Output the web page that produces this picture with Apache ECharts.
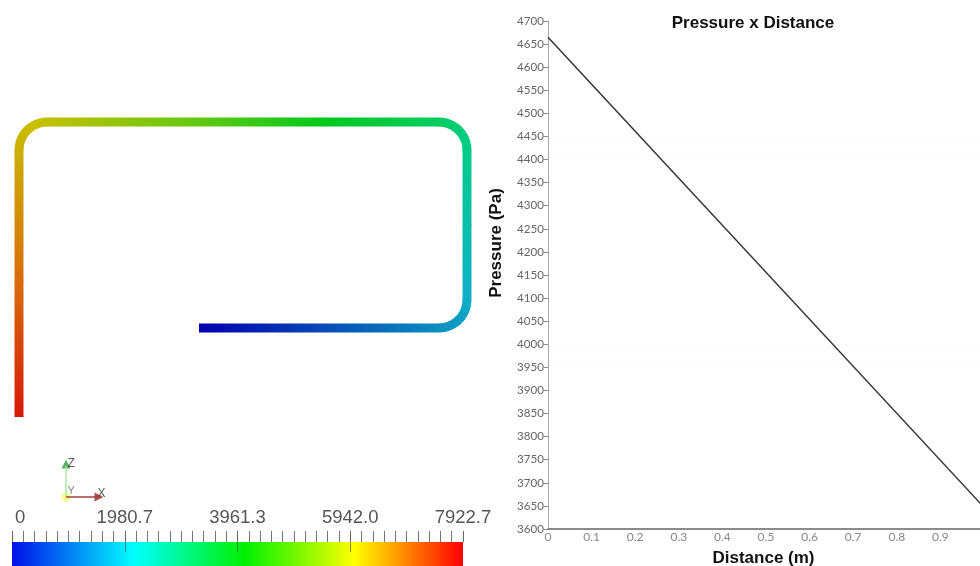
<!DOCTYPE html>
<html>
<head>
<meta charset="utf-8">
<style>html,body{margin:0;padding:0;background:#fff}#c{width:980px;height:566px;filter:blur(0.45px)}</style>
<script src="https://cdn.jsdelivr.net/npm/echarts@6/dist/echarts.min.js"></script>
</head>
<body>
<div id="c"></div>
<script>
// Pressure x Distance
const distance = [0, 1];
const pressure = [4665, 3647];
// Pipe centreline, with the colour-bar value at each point
const pipeX = [199, 300, 439, 444.5, 449.7, 454.6, 458.8, 462.3, 464.9, 466.5, 467, 467, 467, 466.5, 464.9, 462.3, 458.8, 454.6, 449.7, 444.5, 439, 323, 200, 47, 41.5, 36.3, 31.4, 27.2, 23.7, 21.1, 19.5, 19, 19, 19];
const pipeY = [328, 328, 328, 327.5, 325.9, 323.3, 319.8, 315.6, 310.7, 305.5, 300, 225, 150, 144.5, 139.3, 134.4, 130.2, 126.7, 124.1, 122.5, 122, 122, 122, 122, 122.5, 124.1, 126.7, 130.2, 134.4, 139.3, 144.5, 150, 280, 417];
const pipeValue = [0, 680, 1600, 1640, 1680, 1720, 1760, 1800, 1840, 1880, 1920, 2430, 2920, 2960, 3000, 3040, 3080, 3120, 3160, 3200, 3240, 3990, 4820, 5850, 5890, 5930, 5970, 6010, 6050, 6090, 6130, 6170, 7040, 7922.7];
const pipeStops = [[0, '#0000b0'], [0.2, '#0a8cc0'], [0.25, '#10b4c8'], [0.37, '#00cc88'], [0.41, '#05cc60'], [0.5, '#00c81c'], [0.625, '#70c810'], [0.75, '#c8c000'], [0.875, '#d87808'], [1, '#d81808']];
// Colour bar
const barMax = 7922.7;
const barTicks = ['{first|0}', '1980.7', '3961.3', '5942.0', '7922.7'];
const barMajor = [1980.675, 3961.35, 5942.025];
const barStops = [[0, '#0010e8'], [0.27, '#00ffff'], [0.517, '#00f000'], [0.76, '#ffff00'], [1, '#ff0000']];
// Orientation triad
const triadOrigin = [66, 497];
const triadEndZ = [66, 466];
const triadEndX = [97, 497];
const triadHeads = [
  {name: 'Z', value: [66, 464], rot: 0, color: '#30a040'},
  {name: 'X', value: [99, 497], rot: -90, color: '#a02020'}
];
const yTickInterval = 50;

function hexToRgb(h){return [1,3,5].map(i=>parseInt(h.substr(i,2),16));}
function pipeColor(v){
  const t = v / barMax;
  for (let i = 1; i < pipeStops.length; i++) {
    if (t <= pipeStops[i][0]) {
      const a = pipeStops[i-1], b = pipeStops[i], f = (t-a[0])/(b[0]-a[0]);
      const ca = hexToRgb(a[1]), cb = hexToRgb(b[1]);
      return 'rgb(' + ca.map((c,k)=>Math.round(c+(cb[k]-c)*f)).join(',') + ')';
    }
  }
  return pipeStops[pipeStops.length-1][1];
}
const pipeSegments = pipeX.slice(0,-1).map((x,i)=>[x,pipeY[i],pipeX[i+1],pipeY[i+1],pipeValue[i],pipeValue[i+1]]);

const chart = echarts.init(document.getElementById('c'), null, {renderer:'canvas', width:980, height:566});
chart.setOption({
  animation:false,
  backgroundColor:'#fff',
  title:{text:'Pressure x Distance', left:748, top:10, textAlign:'center',
    textStyle:{fontFamily:'Liberation Sans', fontWeight:'bold', fontSize:17, color:'#111'}},
  grid:[
    {left:548, top:21, width:436, height:508, outerBoundsMode:'none'},
    {left:0, top:0, width:490, height:566, outerBoundsMode:'none'},
    {left:12, top:542, width:451, height:24, outerBoundsMode:'none'}
  ],
  xAxis:[
    {gridIndex:0, type:'value', min:0, max:1, interval:0.1, name:'Distance (m)', nameLocation:'middle', nameGap:21,
      nameTextStyle:{fontFamily:'Liberation Sans', fontWeight:'bold', fontSize:17, color:'#111', padding:[0,5,0,0]},
      axisLine:{show:true, lineStyle:{color:'#666', width:1.5}}, axisTick:{show:false},
      axisLabel:{fontFamily:'Lato', fontSize:12, color:'#888', margin:2, hideOverlap:false, formatter:v=>String(+v.toFixed(1))},
      splitLine:{show:false}},
    {gridIndex:1, type:'value', min:0, max:490, show:false},
    {gridIndex:2, type:'value', min:0, max:barMax, interval:barMax/4, position:'top', z:5,
      axisLine:{show:false}, axisTick:{show:true, length:11, lineStyle:{color:'#666', width:1}},
      minorTick:{show:true, splitNumber:10, length:11, lineStyle:{color:'#777', width:1}},
      axisLabel:{show:true, margin:15, fontFamily:'Liberation Sans', fontSize:18.5, color:'#555', alignMinLabel:'left',
        hideOverlap:false, formatter:(v,i)=>barTicks[i],
        rich:{first:{padding:[0,0,0,3], fontFamily:'Liberation Sans', fontSize:18.5, color:'#555'}}},
      splitLine:{show:false}},
    {gridIndex:2, type:'value', min:0, max:barMax, interval:barMax/4, position:'top', z:5,
      axisLine:{show:false}, axisLabel:{show:false}, splitLine:{show:false},
      axisTick:{show:true, inside:true, length:10, customValues:barMajor, lineStyle:{color:'#444', width:1, opacity:0.6}}}
  ],
  yAxis:[
    {gridIndex:0, type:'value', min:3600, max:4700, interval:yTickInterval, name:'Pressure (Pa)', nameLocation:'middle', nameGap:43, nameRotate:90,
      nameTextStyle:{fontFamily:'Liberation Sans', fontWeight:'bold', fontSize:17, color:'#111', padding:[0,0,0,64]},
      axisLine:{show:true, lineStyle:{color:'#aaa', width:1}}, axisTick:{show:true, length:4, lineStyle:{color:'#888'}},
      axisLabel:{fontFamily:'Lato', fontSize:11.6, color:'#666', margin:4, hideOverlap:false, formatter:v=>String(v)},
      splitLine:{show:true, lineStyle:{color:'#fcfcfc'}}},
    {gridIndex:1, type:'value', min:0, max:566, inverse:true, show:false},
    {gridIndex:2, type:'category', data:['scale'], show:false}
  ],
  series:[
    {type:'line', xAxisIndex:0, yAxisIndex:0, data:distance.map((d,i)=>[d,pressure[i]]), symbol:'none', lineStyle:{color:'#333', width:1.5}},
    {type:'custom', xAxisIndex:1, yAxisIndex:1, clip:false, data:pipeSegments,
      encode:{x:[0,2], y:[1,3]},
      renderItem:(p,api)=>{
        const a = api.coord([api.value(0),api.value(1)]);
        const b = api.coord([api.value(2),api.value(3)]);
        const c0 = pipeColor(api.value(4)), c1 = pipeColor(api.value(5));
        const len = Math.hypot(b[0]-a[0], b[1]-a[1]) || 1;
        const ux = (b[0]-a[0])/len, uy = (b[1]-a[1])/len;
        const lap = 0.4;
        const s0 = p.dataIndex === 0 ? 0 : lap;
        const s1 = p.dataIndex === pipeSegments.length-1 ? 0 : lap;
        return {type:'line', shape:{x1:a[0]-ux*s0,y1:a[1]-uy*s0,x2:b[0]+ux*s1,y2:b[1]+uy*s1},
          style:{lineWidth:9, lineCap:'butt', fill:null,
            stroke:new echarts.graphic.LinearGradient(a[0],a[1],b[0],b[1],[{offset:0,color:c0},{offset:1,color:c1}],true)}};
      }},
    {type:'line', xAxisIndex:1, yAxisIndex:1, data:[triadOrigin,triadEndZ], symbol:'none', lineStyle:{color:'#a8e8a0', width:1.5}},
    {type:'line', xAxisIndex:1, yAxisIndex:1, data:[triadOrigin,triadEndX], symbol:'none', lineStyle:{color:'#a04040', width:1.5}},
    {type:'scatter', xAxisIndex:1, yAxisIndex:1, data:[{name:'Y', value:triadOrigin}], symbolSize:9,
      itemStyle:{color:'#ffff70'},
      label:{show:true, formatter:'{b}', position:[6,-7], fontSize:11, fontFamily:'Liberation Sans', color:'#666'}},
    {type:'scatter', xAxisIndex:1, yAxisIndex:1, symbol:'triangle', symbolSize:9,
      data:triadHeads.map(h=>({name:h.name, value:h.value, symbolRotate:h.rot, itemStyle:{color:h.color},
        label:{position:h.name==='Z'?[6,-2]:[3,-5]}})),
      label:{show:true, formatter:'{b}', fontSize:12, fontFamily:'Liberation Sans', color:'#333'}},
    {type:'bar', xAxisIndex:2, yAxisIndex:2, barWidth:'100%', data:[barMax], silent:true,
      itemStyle:{color:new echarts.graphic.LinearGradient(0,0,1,0,barStops.map(s=>({offset:s[0],color:s[1]})))}}
  ]
});
</script>
</body>
</html>
